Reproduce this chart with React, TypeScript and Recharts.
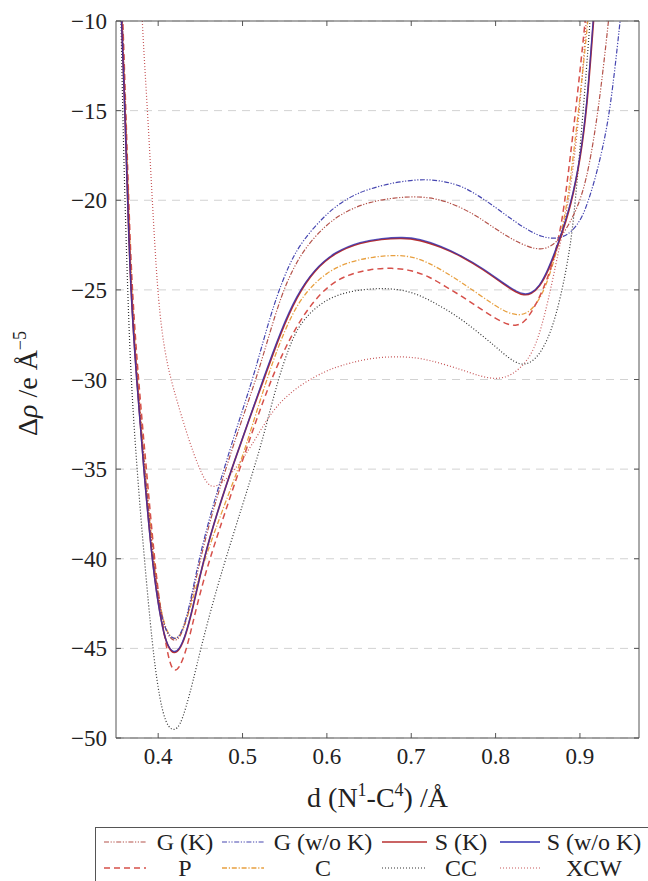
import React from 'react';
import { LineChart, Line, XAxis, YAxis, CartesianGrid } from 'recharts';

type Pt = [number, number];

const xTicks = [0.4, 0.5, 0.6, 0.7, 0.8, 0.9];
const yTicks = [-50, -45, -40, -35, -30, -25, -20, -15, -10];

// [d (Å), Δρ]
const gK: Pt[] = [
  [0.3565, -8.5], [0.3612, -15], [0.3645, -20], [0.368, -25], [0.375, -30], [0.384, -35],
  [0.394, -40], [0.401, -42.4], [0.408, -43.9], [0.414, -44.45], [0.42, -44.6], [0.426, -44.4],
  [0.433, -43.5], [0.44, -42.2], [0.449, -40.2], [0.463, -37.6], [0.48, -35], [0.498, -32.4],
  [0.516, -30], [0.531, -27.6], [0.546, -25.3], [0.56, -23.8], [0.575, -22.6], [0.6, -21.3],
  [0.625, -20.55], [0.65, -20.1], [0.68, -19.85], [0.709, -19.78], [0.735, -19.95], [0.7606, -20.43],
  [0.78, -20.95], [0.8, -21.6], [0.82, -22.2], [0.8394, -22.62], [0.853, -22.76], [0.866, -22.6],
  [0.8788, -22.0], [0.891, -21.0], [0.9004, -20], [0.91, -18.4], [0.922, -15], [0.934, -10], [0.938, -8],
];
const gWoK: Pt[] = [
  [0.3562, -8.5], [0.3608, -15], [0.364, -20], [0.3676, -25], [0.3745, -30], [0.3835, -35],
  [0.393, -40], [0.4, -42.4], [0.407, -43.8], [0.414, -44.35], [0.42, -44.5], [0.426, -44.3],
  [0.433, -43.4], [0.44, -42.0], [0.448, -40.1], [0.462, -37.5], [0.478, -35], [0.495, -32.4],
  [0.512, -30], [0.526, -27.6], [0.54, -25.4], [0.555, -23.6], [0.57, -22.3], [0.6, -20.7],
  [0.625, -19.85], [0.65, -19.35], [0.685, -18.95], [0.717, -18.81], [0.74, -18.95], [0.7606, -19.22],
  [0.78, -19.75], [0.8, -20.4], [0.82, -21.1], [0.8394, -21.7], [0.855, -22.05], [0.869, -22.15],
  [0.88, -22.05], [0.8906, -21.75], [0.9024, -21.0], [0.9102, -20], [0.918, -18.8], [0.926, -17.3],
  [0.936, -15], [0.9477, -10], [0.952, -8],
];
const sK: Pt[] = [
  [0.3555, -8.5], [0.3606, -15], [0.3638, -20], [0.3674, -25], [0.3744, -30], [0.383, -35],
  [0.3926, -40], [0.4, -42.5], [0.407, -44.3], [0.413, -45.05], [0.419, -45.3], [0.425, -45.1],
  [0.432, -44.4], [0.441, -42.8], [0.454, -40], [0.47, -37.4], [0.49, -34.6], [0.508, -32.2],
  [0.526, -29.9], [0.545, -27.4], [0.565, -25.3], [0.585, -23.9], [0.61, -22.9], [0.64, -22.35],
  [0.665, -22.17], [0.688, -22.1], [0.71, -22.2], [0.735, -22.6], [0.76, -23.13], [0.785, -23.85],
  [0.81, -24.7], [0.825, -25.15], [0.8335, -25.3], [0.842, -25.25], [0.852, -24.85], [0.862, -24.0],
  [0.875, -22.4], [0.89, -20.2], [0.9004, -17.7], [0.9083, -14.9], [0.916, -10], [0.92, -7.6],
];
const sWoK: Pt[] = [
  [0.3553, -8.5], [0.3605, -15], [0.3637, -20], [0.3673, -25], [0.3742, -30], [0.3828, -35],
  [0.3924, -40], [0.4, -42.6], [0.407, -44.3], [0.413, -45.0], [0.419, -45.25], [0.425, -45.05],
  [0.432, -44.35], [0.441, -42.75], [0.454, -40], [0.47, -37.4], [0.49, -34.6], [0.508, -32.2],
  [0.525, -29.9], [0.545, -27.3], [0.564, -25.3], [0.585, -23.85], [0.61, -22.85], [0.64, -22.3],
  [0.665, -22.12], [0.69, -22.05], [0.71, -22.15], [0.735, -22.55], [0.76, -23.1], [0.785, -23.8],
  [0.81, -24.65], [0.825, -25.1], [0.834, -25.25], [0.842, -25.2], [0.852, -24.8], [0.862, -23.9],
  [0.875, -22.3], [0.89, -20.1], [0.9, -17.7], [0.908, -14.9], [0.9155, -10], [0.9195, -7.6],
];
const pVals: Pt[] = [
  [0.357, -8.5], [0.3617, -15], [0.365, -20], [0.369, -25], [0.3765, -30], [0.386, -35],
  [0.3955, -40], [0.402, -42.6], [0.408, -44.5], [0.414, -45.9], [0.419, -46.3], [0.425, -46.1],
  [0.432, -45.3], [0.439, -44.0], [0.446, -42.6], [0.455, -41.0], [0.464, -39.6], [0.48, -37.3],
  [0.498, -34.8], [0.516, -32.3], [0.534, -30], [0.548, -28.5], [0.562, -27.2], [0.581, -25.8],
  [0.603, -24.7], [0.625, -24.15], [0.65, -23.85], [0.677, -23.76], [0.7, -23.9], [0.721, -24.25],
  [0.74, -24.8], [0.7606, -25.37], [0.78, -26.0], [0.8, -26.6], [0.815, -26.95], [0.825, -27.0],
  [0.835, -26.8], [0.847, -25.9], [0.857, -24.9], [0.8666, -23.7], [0.875, -22.1], [0.882, -20.2],
  [0.895, -15], [0.9064, -10], [0.91, -8],
];
const cVals: Pt[] = [
  [0.356, -8.5], [0.3612, -15], [0.3645, -20], [0.3683, -25], [0.3755, -30], [0.3845, -35],
  [0.3945, -40], [0.401, -42.4], [0.408, -43.8], [0.414, -44.35], [0.42, -44.5], [0.426, -44.3],
  [0.433, -43.5], [0.44, -42.4], [0.448, -41.1], [0.457, -39.8], [0.476, -37.3], [0.4966, -34.8],
  [0.512, -32.5], [0.528, -30.1], [0.542, -28.2], [0.558, -26.4], [0.575, -25.1], [0.6, -24.0],
  [0.625, -23.45], [0.655, -23.15], [0.6857, -23.04], [0.705, -23.2], [0.721, -23.5], [0.74, -24.0],
  [0.76, -24.6], [0.78, -25.25], [0.8, -25.9], [0.815, -26.3], [0.8295, -26.45], [0.841, -26.2],
  [0.852, -25.55], [0.861, -24.6], [0.869, -23.4], [0.8765, -22.1], [0.886, -20], [0.8985, -15],
  [0.9095, -10], [0.913, -8],
];
const ccVals: Pt[] = [
  [0.3548, -8], [0.356, -10], [0.3579, -15], [0.3606, -20], [0.3638, -25], [0.3677, -30],
  [0.3748, -35], [0.3835, -40], [0.3934, -45], [0.4, -47.3], [0.406, -48.7], [0.412, -49.4],
  [0.419, -49.6], [0.426, -49.3], [0.433, -48.3], [0.441, -46.9], [0.4505, -45], [0.465, -42.4],
  [0.48, -40], [0.5, -37], [0.516, -34.6], [0.528, -32.6], [0.5415, -30.1], [0.555, -28.2],
  [0.5675, -26.9], [0.59, -25.8], [0.615, -25.2], [0.645, -24.95], [0.674, -24.9], [0.7, -25.1],
  [0.721, -25.55], [0.74, -26.05], [0.7606, -26.67], [0.78, -27.4], [0.8, -28.16], [0.815, -28.8],
  [0.8295, -29.2], [0.84, -29.1], [0.851, -28.7], [0.865, -27.5], [0.878, -25.3], [0.8886, -22.6],
  [0.8935, -20.6], [0.9035, -15.3], [0.912, -10], [0.915, -8],
];
const xcwVals: Pt[] = [
  [0.379, -7], [0.3807, -10], [0.3874, -15], [0.393, -20], [0.399, -25], [0.405, -27.6],
  [0.411, -29.2], [0.418, -30.5], [0.428, -32.1], [0.438, -33.6], [0.447, -34.75], [0.455, -35.6],
  [0.4623, -36.0], [0.47, -35.95], [0.48, -35.6], [0.492, -34.95], [0.5037, -34.2], [0.518, -33.1],
  [0.536, -31.7], [0.555, -30.8], [0.5754, -30.1], [0.6, -29.5], [0.6148, -29.25], [0.645, -28.85],
  [0.677, -28.71], [0.7, -28.75], [0.721, -28.9], [0.7606, -29.46], [0.78, -29.8], [0.8, -30.0],
  [0.8196, -29.8], [0.8394, -28.9], [0.851, -27.7], [0.863, -25.5], [0.8748, -22.8], [0.8875, -20],
  [0.9, -15], [0.9075, -10], [0.91, -8],
];

const serif = '"Liberation Serif", "DejaVu Serif", serif';
const frame = '#555';

const DASHDOTDOT = '5 1.6 1.2 1.6 1.2 1.6';
const series = [
  { name: 'G (K)', pts: gK, color: '#b4534b', dash: DASHDOTDOT, w: 1.2, op: 1 },
  { name: 'G (w/o K)', pts: gWoK, color: '#4646b0', dash: DASHDOTDOT, w: 1.2, op: 1 },
  { name: 'S (K)', pts: sK, color: '#b83030', dash: undefined, w: 1.7, op: 1 },
  { name: 'S (w/o K)', pts: sWoK, color: '#3030b0', dash: undefined, w: 1.3, op: 0.8 },
  { name: 'P', pts: pVals, color: '#d6504a', dash: '6 4', w: 1.5, op: 1 },
  { name: 'C', pts: cVals, color: '#e8a040', dash: '5 1.8 1.2 1.8', w: 1.3, op: 1 },
  { name: 'CC', pts: ccVals, color: '#333333', dash: '1 2', w: 1.2, op: 1 },
  { name: 'XCW', pts: xcwVals, color: '#c7585a', dash: '1 2', w: 1.2, op: 1 },
];
const drawOrder = ['XCW', 'CC', 'C', 'P', 'G (K)', 'G (w/o K)', 'S (K)', 'S (w/o K)'];

const fmtY = (v: number) => (v < 0 ? '\u2212' + Math.abs(v) : String(v));

const BottomTick = (p: any) => (
  <g>
    <line x1={p.x} x2={p.x} y1={p.y} y2={p.y - 5} stroke={frame} />
    <text x={p.x} y={p.y + 26} textAnchor="middle" fontSize={23} fontFamily={serif} fill="#222">
      {String(p.payload.value)}
    </text>
  </g>
);
const TopTick = (p: any) => <line x1={p.x} x2={p.x} y1={p.y} y2={p.y + 5} stroke={frame} />;
const LeftTick = (p: any) => (
  <g>
    <line x1={p.x} x2={p.x + 5} y1={p.y} y2={p.y} stroke={frame} />
    <text x={p.x - 9} y={p.y + 8} textAnchor="end" fontSize={23} fontFamily={serif} fill="#222">
      {fmtY(p.payload.value)}
    </text>
  </g>
);
const RightTick = (p: any) => <line x1={p.x - 5} x2={p.x} y1={p.y} y2={p.y} stroke={frame} />;

const XTitle = (p: any) => {
  const vb = p.viewBox;
  return (
    <text x={vb.x + vb.width / 2} y={vb.y + 69} textAnchor="middle" fontSize={28} fontFamily={serif} fill="#222">
      d (N<tspan dy={-11} fontSize={18}>1</tspan>
      <tspan dy={11}>-C</tspan>
      <tspan dy={-11} fontSize={18}>4</tspan>
      <tspan dy={11}>) /Å</tspan>
    </text>
  );
};
const YTitle = (p: any) => {
  const vb = p.viewBox;
  return (
    <text transform={`translate(37, ${vb.y + vb.height / 2 + 4}) rotate(-90)`} textAnchor="middle" fontSize={28} fontFamily={serif} fill="#222">
      Δ<tspan fontStyle="italic">ρ</tspan> /e Å<tspan dy={-11} fontSize={18}>−5</tspan>
    </text>
  );
};

const legendCols = [
  { sample: [104, 146], text: 185 },
  { sample: [222, 264], text: 323 },
  { sample: [382, 427], text: 461 },
  { sample: [500, 540], text: 594 },
];
const legendRows = [850, 876];

function LegendBox() {
  return (
    <svg width={648} height={881} style={{ position: 'absolute', left: 0, top: 0, pointerEvents: 'none' }}>
      <rect x={95.5} y={827.5} width={560} height={70} fill="#fff" stroke={frame} />
      {series.map((s, i) => {
        const col = legendCols[i % 4];
        const by = legendRows[Math.floor(i / 4)];
        return (
          <g key={s.name}>
            <line x1={col.sample[0]} x2={col.sample[1]} y1={by - 8} y2={by - 8} stroke={s.color} strokeWidth={s.w} strokeDasharray={s.dash} />
            <text x={col.text} y={by} textAnchor="middle" fontSize={24} fontFamily={serif} fill="#222">
              {s.name}
            </text>
          </g>
        );
      })}
    </svg>
  );
}

export default function App() {
  const ordered = drawOrder.map((n) => series.find((s) => s.name === n)!);
  return (
    <div style={{ position: 'absolute', left: 0, top: 0, width: 648, height: 881, overflow: 'hidden', background: '#fff' }}>
      <LineChart width={648} height={881} margin={{ top: 20, right: 8, bottom: 0, left: 0 }}>
        <CartesianGrid vertical={false} stroke="#d2d2d2" strokeDasharray="8 6" />
        {ordered.map((s) => (
          <Line
            key={s.name}
            name={s.name}
            data={s.pts.map(([x, y]) => ({ x, y }))}
            dataKey="y"
            type="basis"
            stroke={s.color}
            strokeOpacity={s.op}
            strokeWidth={s.w}
            strokeDasharray={s.dash}
            dot={false}
            activeDot={false}
            isAnimationActive={false}
          />
        ))}
        <XAxis
          dataKey="x"
          type="number"
          domain={[0.35, 0.97]}
          ticks={xTicks}
          interval={0}
          allowDataOverflow
          height={143}
          tickSize={0}
          tickMargin={0}
          tickLine={false}
          axisLine={{ stroke: frame }}
          tick={BottomTick}
          label={{ content: XTitle }}
        />
        <XAxis
          xAxisId="t"
          orientation="top"
          dataKey="x"
          type="number"
          domain={[0.35, 0.97]}
          ticks={xTicks}
          interval={0}
          allowDataOverflow
          height={1}
          tickSize={0}
          tickMargin={0}
          tickLine={false}
          axisLine={{ stroke: frame }}
          tick={TopTick}
        />
        <YAxis
          type="number"
          domain={[-50, -10]}
          ticks={yTicks}
          interval={0}
          allowDataOverflow
          width={116}
          tickSize={0}
          tickMargin={0}
          tickLine={false}
          axisLine={{ stroke: frame }}
          tick={LeftTick}
          label={{ content: YTitle }}
        />
        <YAxis
          yAxisId="r"
          orientation="right"
          type="number"
          domain={[-50, -10]}
          ticks={yTicks}
          interval={0}
          allowDataOverflow
          width={1}
          tickSize={0}
          tickMargin={0}
          tickLine={false}
          axisLine={{ stroke: frame }}
          tick={RightTick}
        />
      </LineChart>
      <LegendBox />
    </div>
  );
}
